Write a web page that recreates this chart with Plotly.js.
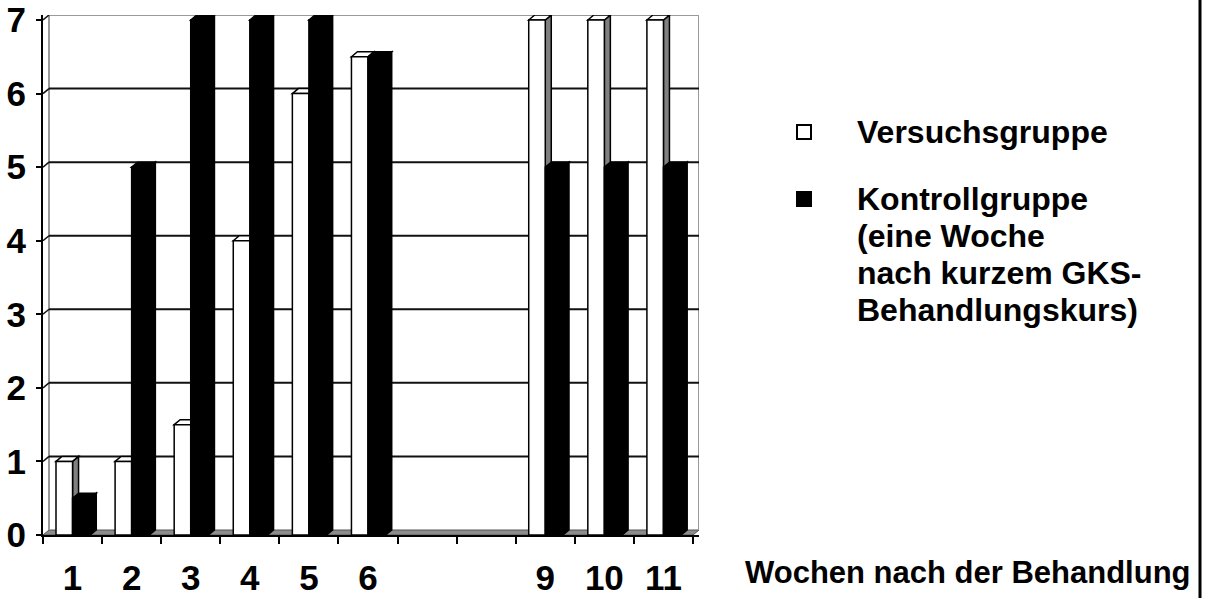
<!DOCTYPE html>
<html>
<head>
<meta charset="utf-8">
<script src="https://cdn.plot.ly/plotly-3.0.1.min.js"></script>
<style>
  html, body { margin: 0; padding: 0; background: #ffffff; }
  #chart { width: 1205px; height: 598px; }
</style>
</head>
<body>
<div id="chart"></div>
<script>
// Weeks after treatment (7 and 8 have no measurements)
const weeks = [1, 2, 3, 4, 5, 6, 9, 10, 11];
const weekLabels = ['1', '2', '3', '4', '5', '6', '9', '10', '11'];
const versuchsgruppe = [1, 1, 1.5, 4, 6, 6.5, 7, 7, 7];
const kontrollgruppe = [0.5, 5, 7, 7, 7, 6.5, 5, 5, 5];
const versuchsLines = ['Versuchsgruppe'];
const kontrollLines = ['Kontrollgruppe', '(eine Woche', 'nach kurzem GKS-', 'Behandlungskurs)'];
const xTitle = 'Wochen nach der Behandlung';
const yTicks = [0, 1, 2, 3, 4, 5, 6, 7];

// Page geometry (pixels)
const W = 1205, H = 598;
const plotL = 43, plotB = 535;          // axis origin
const catPx = 650 / 11;                 // width of one week slot
const unitPx = 515 / 7;                 // height of one unit on the y axis
const depthX = 6, depthY = 5;           // pseudo-3D depth offset
const dx = depthX / catPx, dy = depthY / unitPx;
const xMin = 0.5, xMax = 11.5;
const yMax = 7;
const plotR = plotL + (xMax - xMin + dx) * catPx;
const plotT = plotB - (yMax + dy) * unitPx;

// pixel -> paper helpers for decorations outside the axes
const px = v => (v - plotL) / (plotR - plotL);
const py = v => (plotB - v) / (plotB - plotT);

const wOff = -0.28, wWid = 0.28;        // white bar: left of week centre
const bOff = 0, bWid = 0.30;            // black bar: right of week centre

const shapes = [];
// floor
shapes.push({type: 'path', layer: 'below', xref: 'x', yref: 'y',
  path: `M${xMin},0 L${xMax},0 L${xMax + dx},${dy} L${xMin + dx},${dy} Z`,
  fillcolor: '#8c8c8c', line: {color: '#555', width: 1}});
// back wall borders
shapes.push({type: 'line', layer: 'below', xref: 'x', yref: 'y',
  x0: xMin + dx, y0: dy, x1: xMin + dx, y1: yMax + dy, line: {color: '#9a9a9a', width: 2}});
shapes.push({type: 'line', layer: 'below', xref: 'x', yref: 'y',
  x0: xMax + dx, y0: dy, x1: xMax + dx, y1: yMax + dy, line: {color: '#9a9a9a', width: 2}});
shapes.push({type: 'line', layer: 'below', xref: 'x', yref: 'y',
  x0: xMin + dx, y0: yMax + dy, x1: xMax + dx, y1: yMax + dy, line: {color: '#9a9a9a', width: 2}});
// gridlines on the back wall, joined to the axis by short diagonals
yTicks.forEach(t => {
  if (t > 0 && t < yMax) {
    shapes.push({type: 'line', layer: 'below', xref: 'x', yref: 'y',
      x0: xMin + dx, y0: t + dy, x1: xMax + dx, y1: t + dy, line: {color: '#111', width: 2}});
  }
  if (t > 0) {
    shapes.push({type: 'line', layer: 'below', xref: 'x', yref: 'y',
      x0: xMin, y0: t, x1: xMin + dx, y1: t + dy, line: {color: '#111', width: 1.5}});
  }
});
// side and top faces of each column
function faces(xs, vals, off, wid, sideColor, topColor) {
  xs.forEach((x, i) => {
    const h = vals[i];
    const l = x + off, r = x + off + wid;
    shapes.push({type: 'path', layer: 'between', xref: 'x', yref: 'y',
      path: `M${r},0 L${r + dx},${dy} L${r + dx},${h + dy} L${r},${h} Z`,
      fillcolor: sideColor, line: {color: '#000', width: 1.5}});
    shapes.push({type: 'path', layer: 'between', xref: 'x', yref: 'y',
      path: `M${l},${h} L${l + dx},${h + dy} L${r + dx},${h + dy} L${r},${h} Z`,
      fillcolor: topColor, line: {color: '#000', width: 1.5}});
  });
}
faces(weeks, versuchsgruppe, wOff, wWid, '#808080', '#ffffff');
faces(weeks, kontrollgruppe, bOff, bWid, '#000000', '#000000');

// legend keys
const keySize = 14, keyX = 797, textX = 855, lineGap = 37;
const keyMid = [132, 199];
shapes.push({type: 'rect', xref: 'paper', yref: 'paper',
  x0: px(keyX), x1: px(keyX + keySize), y0: py(keyMid[0] + keySize / 2), y1: py(keyMid[0] - keySize / 2),
  fillcolor: '#ffffff', line: {color: '#000', width: 2}});
shapes.push({type: 'rect', xref: 'paper', yref: 'paper',
  x0: px(keyX), x1: px(keyX + keySize), y0: py(keyMid[1] + keySize / 2), y1: py(keyMid[1] - keySize / 2),
  fillcolor: '#000000', line: {color: '#000', width: 2}});
// frame line at the right edge
shapes.push({type: 'line', xref: 'paper', yref: 'paper',
  x0: px(1200), x1: px(1200), y0: py(0), y1: py(H), line: {color: '#000', width: 3}});

const font = 'Liberation Sans, Arial, sans-serif';
const legendFont = {family: font, size: 32, color: '#000'};

const annotations = [];
[versuchsLines, kontrollLines].forEach((lines, k) => {
  lines.forEach((line, j) => {
    annotations.push({xref: 'paper', yref: 'paper', x: px(textX), y: py(keyMid[k] + j * lineGap),
      xanchor: 'left', yanchor: 'middle', align: 'left', showarrow: false,
      text: '<b>' + line + '</b>', font: legendFont});
  });
});
annotations.push({xref: 'paper', yref: 'paper', x: px(1193), y: py(572),
  xanchor: 'right', yanchor: 'middle', showarrow: false,
  text: '<b>' + xTitle + '</b>', font: {family: font, size: 31, color: '#000'}});

const traces = [
  {type: 'bar', name: 'Versuchsgruppe', x: weeks, y: versuchsgruppe,
   offset: wOff, width: wWid, xaxis: 'x', yaxis: 'y',
   marker: {color: '#ffffff', line: {color: '#000', width: 1.5}}, hoverinfo: 'x+y'},
  {type: 'bar', name: 'Kontrollgruppe', x: weeks, y: kontrollgruppe,
   offset: bOff, width: bWid, xaxis: 'x', yaxis: 'y',
   marker: {color: '#000000', line: {color: '#000', width: 1.5}}, hoverinfo: 'x+y'}
];

// boundary ticks between weeks
const boundaries = [];
for (let b = xMin; b <= xMax; b += 1) boundaries.push(b);

const tickFont = {family: font, size: 35, color: '#000', weight: 'bold'};

const layout = {
  width: W, height: H,
  margin: {l: plotL, r: W - plotR, t: plotT, b: H - plotB, pad: 0},
  paper_bgcolor: '#ffffff', plot_bgcolor: 'rgba(0,0,0,0)',
  showlegend: false, barmode: 'overlay',
  font: {family: font, color: '#000'},
  xaxis: {range: [xMin, xMax + dx], tickvals: weeks, ticktext: weekLabels,
    ticks: '', showgrid: false, zeroline: false, showline: true,
    linecolor: '#000', linewidth: 2, ticklabelstandoff: 11, ticklabeloverflow: 'allow',
    tickfont: tickFont, fixedrange: true},
  xaxis2: {overlaying: 'x', range: [xMin, xMax + dx], tickvals: boundaries,
    showticklabels: false, ticks: 'outside', ticklen: 8, tickwidth: 2, tickcolor: '#000',
    showgrid: false, zeroline: false, showline: false, side: 'bottom', fixedrange: true},
  yaxis: {range: [0, yMax + dy], tickvals: yTicks, ticks: 'outside', ticklen: 5,
    tickwidth: 2, tickcolor: '#000', showgrid: false, zeroline: false,
    showline: true, linecolor: '#000', linewidth: 2, ticklabelstandoff: 3,
    ticklabeloverflow: 'allow', tickfont: tickFont, fixedrange: true},
  shapes: shapes,
  annotations: annotations
};

// an empty trace carries the boundary tick axis
traces.push({type: 'scatter', x: [], y: [], xaxis: 'x2', yaxis: 'y', hoverinfo: 'skip', showlegend: false});

Plotly.newPlot('chart', traces, layout, {displayModeBar: false, staticPlot: true});
</script>
</body>
</html>
